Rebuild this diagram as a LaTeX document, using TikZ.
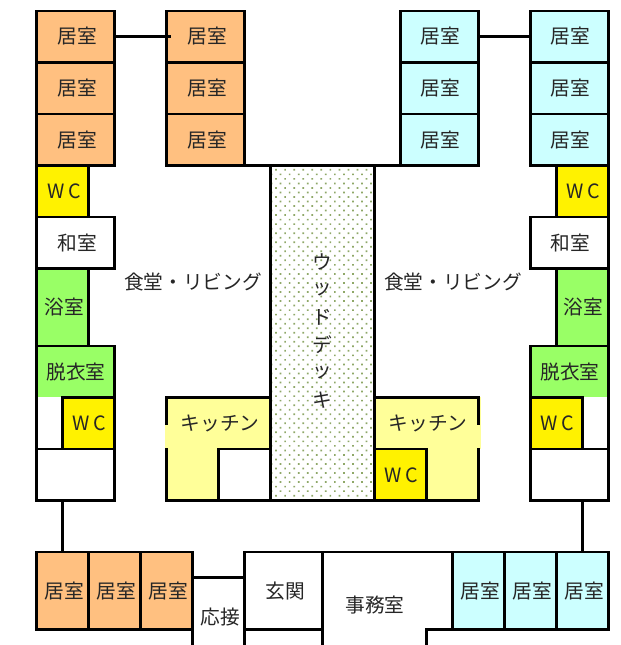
\documentclass[tikz,border=0pt]{standalone}
\usepackage{fontspec}
\setmainfont{Noto Sans CJK JP}
\usetikzlibrary{patterns.meta}
\definecolor{roomorange}{HTML}{FFC080}
\definecolor{roomcyan}{HTML}{CCFFFF}
\definecolor{roomgreen}{HTML}{99FF66}
\definecolor{kitchenyellow}{HTML}{FFFF99}
\definecolor{deckdot}{HTML}{8FA868}
\tikzset{
  wall/.style={line width=1.35pt, line cap=rect},
  room/.style={wall, draw=black},
  lbl/.style={font=\fontsize{9.85}{11}\selectfont, text=black!85, inner sep=0pt},
}
\newcommand{\roomlabel}[3]{\node[lbl] at ({(#1-36.7)/26},{-(#2-11)/25.76}) {#3};}

\begin{document}
\begin{tikzpicture}[x=13pt, y=12.88pt]
\useasboundingbox (-1.412,0.427) rectangle (22.435,-24.612);

%Wood deck
\fill[pattern={Dots[distance=3.2pt, radius=0.6pt, angle=45]}, pattern color=deckdot] (9,-6) rectangle (13,-19);

%Kitchens
\fill[kitchenyellow] (4.93,-15) rectangle (9,-17);
\fill[kitchenyellow] (5,-17) rectangle (7,-19);
\fill[kitchenyellow] (13,-15) rectangle (17.07,-17);
\fill[kitchenyellow] (15,-17) rectangle (17,-19);
\draw[wall] (5,-16) -- (5,-15) -- (9,-15);
\draw[wall] (5,-17) -- (5,-19) -- (13,-19);
\draw[wall] (9,-17) -- (7,-17) -- (7,-19);
\draw[wall] (13,-15) -- (17,-15) -- (17,-16);
\draw[wall] (17,-17) -- (17,-19) -- (13,-19);
\draw[room, fill=yellow] (13,-17) rectangle (15,-19);
\draw[wall] (9,-6) -- (9,-19);
\draw[wall] (13,-6) -- (13,-19);

%Guest rooms, top
\foreach \ytop in {0,-2,-4} {
  \draw[room, fill=roomorange] (0,\ytop) rectangle (3,\ytop-2);
  \draw[room, fill=roomorange] (5,\ytop) rectangle (8,\ytop-2);
  \draw[room, fill=roomcyan] (14,\ytop) rectangle (17,\ytop-2);
  \draw[room, fill=roomcyan] (19,\ytop) rectangle (22,\ytop-2);
}
\draw[wall] (8,-6) -- (14,-6);
\draw[wall] (3,-1) -- (5.1,-1);
\draw[wall] (17,-1) -- (19,-1);

%Left wing
\draw[room, fill=yellow] (0,-6) rectangle (2,-8);
\draw[room, fill=white] (0,-8) rectangle (3,-10);
\draw[room, fill=roomgreen] (0,-10) rectangle (2,-13);
\fill[roomgreen] (0,-13) rectangle (3,-15);
\draw[room, fill=yellow] (1,-15) rectangle (3,-17);
\draw[wall] (0,-19) -- (0,-13) -- (3,-13) -- (3,-19) -- cycle;
\draw[wall] (0,-17) -- (3,-17);

%Right wing
\draw[room, fill=yellow] (20,-6) rectangle (22,-8);
\draw[room, fill=white] (19,-8) rectangle (22,-10);
\draw[room, fill=roomgreen] (20,-10) rectangle (22,-13);
\fill[roomgreen] (19,-13) rectangle (22,-15);
\draw[room, fill=yellow] (19,-15) rectangle (21,-17);
\draw[wall] (19,-19) -- (19,-13) -- (22,-13) -- (22,-19) -- cycle;
\draw[wall] (19,-17) -- (22,-17);

%Links to the south block
\draw[wall] (1,-19) -- (1,-21);
\draw[wall] (21,-19) -- (21,-21);

%South block
\foreach \xleft in {0,2,4} {
  \draw[room, fill=roomorange] (\xleft,-21) rectangle (\xleft+2,-24);
}
\foreach \xleft in {16,18,20} {
  \draw[room, fill=roomcyan] (\xleft,-21) rectangle (\xleft+2,-24);
}
\draw[wall] (6,-22) -- (8,-22);
\draw[wall] (6,-24) -- (6,-24.8);
\draw[wall] (8,-21) -- (22,-21);
\draw[wall] (8,-21) -- (8,-24.8);
\draw[wall] (11,-21) -- (11,-24.8);
\draw[wall] (8,-24) -- (11,-24);
\draw[wall] (15,-24.8) -- (15,-24) -- (16,-24);

%Labels
\foreach \lx in {77.5,207.5,440.5,570.5} {
  \foreach \ly in {36,88,140} {
    \roomlabel{\lx}{\ly}{居室}
  }
}
\foreach \lx in {64,116,168,480,532,584} {
  \roomlabel{\lx}{591}{居室}
}
\roomlabel{64}{191}{W\,C}
\roomlabel{583}{191}{W\,C}
\roomlabel{89}{423}{W\,C}
\roomlabel{557}{423}{W\,C}
\roomlabel{401}{475}{W\,C}
\roomlabel{77}{243}{和室}
\roomlabel{570}{243}{和室}
\roomlabel{64}{307}{浴室}
\roomlabel{583}{307}{浴室}
\roomlabel{76}{372}{脱衣室}
\roomlabel{570}{372}{脱衣室}
\roomlabel{193}{282}{食堂・リビング}
\roomlabel{453}{282}{食堂・リビング}
\roomlabel{220}{423}{キッチン}
\roomlabel{428}{423}{キッチン}
\roomlabel{220}{617}{応接}
\roomlabel{285}{591}{玄関}
\roomlabel{375}{605}{事務室}
\foreach \ch [count=\i from 0] in {ウ,ッ,ド,デ,ッ,キ} {
  \pgfmathsetmacro{\ly}{262+27.6*\i}
  \roomlabel{322}{\ly}{\ch}
}
\end{tikzpicture}
\end{document}
